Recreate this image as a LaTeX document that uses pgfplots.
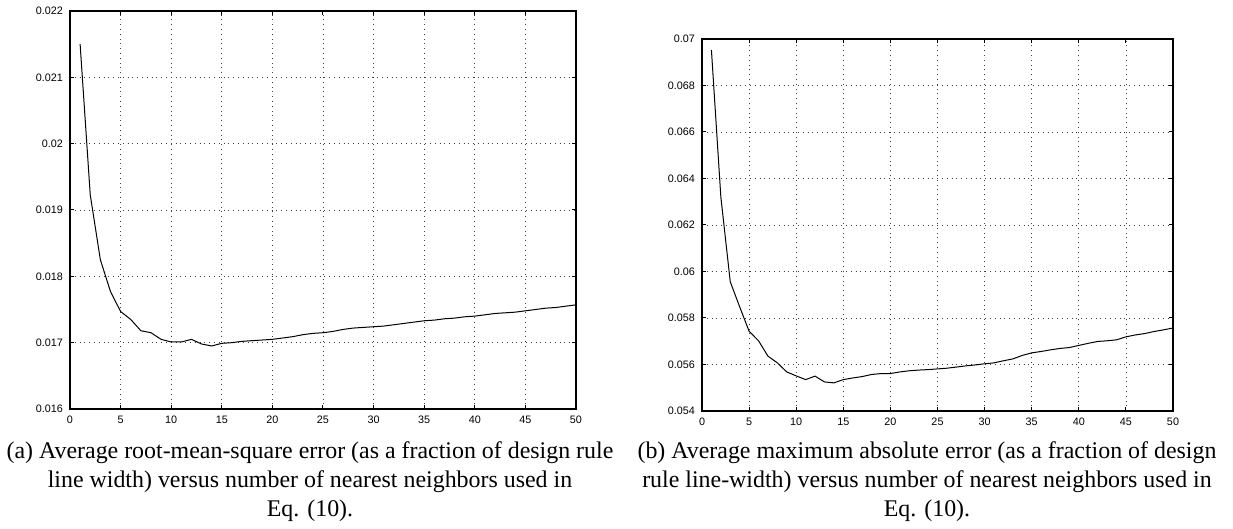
\documentclass[border=0pt]{standalone}
\usepackage{fontspec}
\setmainfont{Liberation Serif}
\newfontfamily\helv{Liberation Sans}
\usepackage{pgfplots}
\pgfplotsset{compat=1.18}

\pgfplotsset{
  matlab/.style={
    scale only axis,
    xmin=0, xmax=50,
    xtick={0,5,...,50},
    grid=major,
    grid style={dotted, black!75, line width=0.4pt},
    axis line style={line width=0.9pt},
    tick align=inside,
    tick style={black, line width=0.5pt},
    major tick length=2.2pt,
    tick label style={font=\helv\fontsize{5.4}{6}\selectfont},
    /pgf/number format/assume math mode=true,
    yticklabel style={/pgf/number format/fixed, /pgf/number format/precision=3},
    scaled y ticks=false,
  },
  curve/.style={black, line width=0.5pt, mark=none},
}

\begin{document}
\begin{tikzpicture}
  \useasboundingbox (0,0) rectangle (616.5pt,264.5pt);

  % (a) RMS error
  \begin{axis}[
    matlab,
    at={(35pt,60pt)}, anchor=south west,
    width=253pt, height=199pt,
    ymin=0.016, ymax=0.022,
    ytick={0.016,0.017,...,0.0225},
  ]
    \addplot[curve] coordinates {
      (1,0.0215) (2,0.01923) (3,0.01825) (4,0.01777) (5,0.01747)
      (6,0.01735) (7,0.01718) (8,0.01715) (9,0.01705) (10,0.01701)
      (11,0.01701) (12,0.01705) (13,0.01698) (14,0.01695) (15,0.01699)
      (16,0.01700) (17,0.01702) (18,0.01703) (19,0.01704) (20,0.01705)
      (21,0.01707) (22,0.01709) (23,0.01712) (24,0.01714) (25,0.01715)
      (26,0.01717) (27,0.01720) (28,0.01722) (29,0.01723) (30,0.01724)
      (31,0.01725) (32,0.01727) (33,0.01729) (34,0.01731) (35,0.01733)
      (36,0.01734) (37,0.01736) (38,0.01737) (39,0.01739) (40,0.01740)
      (41,0.01742) (42,0.01744) (43,0.01745) (44,0.01746) (45,0.01748)
      (46,0.01750) (47,0.01752) (48,0.01753) (49,0.01755) (50,0.01757)
    };
  \end{axis}

  % (b) max absolute error
  \begin{axis}[
    matlab,
    at={(351pt,59pt)}, anchor=south west,
    width=235.5pt, height=186pt,
    ymin=0.054, ymax=0.07,
    ytick={0.054,0.056,...,0.0705},
  ]
    \addplot[curve] coordinates {
      (1,0.06953) (2,0.06321) (3,0.05956) (4,0.05848) (5,0.05743)
      (6,0.05702) (7,0.05636) (8,0.05607) (9,0.05568) (10,0.05551)
      (11,0.05535) (12,0.05550) (13,0.05525) (14,0.05521) (15,0.05535)
      (16,0.05542) (17,0.05548) (18,0.05557) (19,0.05561) (20,0.05561)
      (21,0.05568) (22,0.05573) (23,0.05576) (24,0.05578) (25,0.05581)
      (26,0.05584) (27,0.05589) (28,0.05594) (29,0.05598) (30,0.05603)
      (31,0.05607) (32,0.05616) (33,0.05624) (34,0.05639) (35,0.05650)
      (36,0.05656) (37,0.05663) (38,0.05669) (39,0.05673) (40,0.05682)
      (41,0.05691) (42,0.05699) (43,0.05702) (44,0.05706) (45,0.05719)
      (46,0.05727) (47,0.05733) (48,0.05742) (49,0.05749) (50,0.05757)
    };
  \end{axis}

  % captions
  \begin{scope}[every node/.style={font=\fontsize{11.95}{14}\selectfont, anchor=base, inner sep=0pt}]
    \node at (155pt,35pt) {(a) Average root-mean-square error (as a fraction of design rule};
    \node at (155pt,20.5pt) {line width) versus number of nearest neighbors used in};
    \node at (155pt,6pt) {Eq. (10).};
    \node at (463.5pt,35pt) {(b) Average maximum absolute error (as a fraction of design};
    \node at (463.5pt,20.5pt) {rule line-width) versus number of nearest neighbors used in};
    \node at (463.5pt,6pt) {Eq. (10).};
  \end{scope}
\end{tikzpicture}
\end{document}
